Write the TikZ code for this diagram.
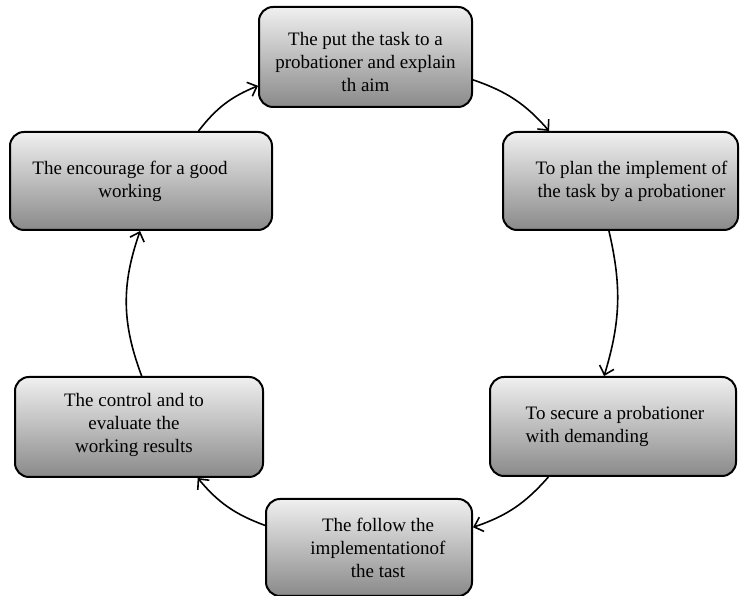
\documentclass[tikz,border=0pt]{standalone}
\usepackage{fontspec}
\setmainfont{Liberation Serif}
\usetikzlibrary{arrows.meta}

\tikzset{
  stepbox/.style={draw=black, line width=2pt, rounded corners=14pt,
    top color=gray!12, bottom color=gray!92, inner sep=0pt},
  boxtext/.style={align=center, font=\fontsize{19}{23}\selectfont, inner sep=0pt},
  flow/.style={->, line width=1.6pt, bend left=15},
}

\begin{document}
\begin{tikzpicture}[x=1pt, y=1pt, >={Straight Barb[length=8pt,width=15pt]}]
  \useasboundingbox (0,0) rectangle (740,596);

  % the six steps
  \node[stepbox, minimum width=213pt, minimum height=100pt] (aim) at (365.5,539) {};
  \node[stepbox, minimum width=235pt, minimum height=98pt] (plan) at (620.5,415) {};
  \node[stepbox, minimum width=246pt, minimum height=99pt] (secure) at (613,169.5) {};
  \node[stepbox, minimum width=206pt, minimum height=97pt] (follow) at (369,48.5) {};
  \node[stepbox, minimum width=248pt, minimum height=100pt] (control) at (139,169) {};
  \node[stepbox, minimum width=262pt, minimum height=98pt] (encourage) at (141,415) {};

  % texts
  \node[boxtext] at ([yshift=-5pt]aim.center) {The put the task to a\\probationer and explain\\th aim};
  \node[boxtext] at ([xshift=11pt]plan.center) {To plan the implement of\\the task by a probationer};
  \node[boxtext, align=left] at ([xshift=2pt]secure.center) {To secure a probationer\\with demanding};
  \node[boxtext] at ([xshift=9pt]follow.center) {The follow the\\implementationof\\the tast};
  \node[boxtext] at ([xshift=-5pt,yshift=2pt]control.center) {The control and to\\evaluate the\\working results};
  \node[boxtext] at ([xshift=-11pt]encourage.center) {The encourage for a good\\working};

  % the cycle
  \draw[flow] (encourage.41) to (aim.195);
  \draw[flow] (aim.-12) to (plan.145);
  \draw[flow] (plan.257) to (secure.100);
  \draw[flow] (secure.218) to (follow.11);
  \draw[flow] (follow.168) to (control.319);
  \draw[flow, bend left=20] (control.87) to (encourage.269);
\end{tikzpicture}
\end{document}
